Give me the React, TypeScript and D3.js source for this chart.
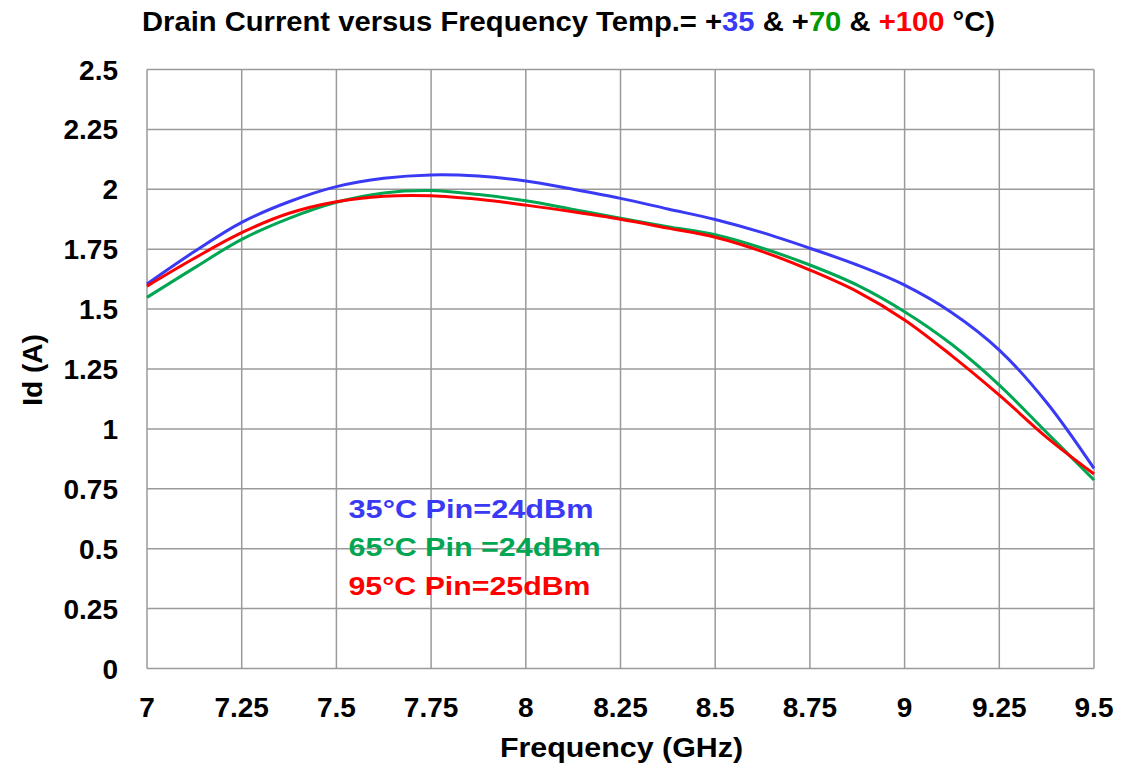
import React from "react";
import * as d3 from "d3";

const freqs = [7, 7.125, 7.25, 7.375, 7.5, 7.625, 7.75, 7.875, 8, 8.125, 8.25, 8.375, 8.5, 8.625, 8.75, 8.875, 9, 9.125, 9.25, 9.375, 9.5];
const id35 = [1.605, 1.74, 1.862, 1.948, 2.011, 2.046, 2.06, 2.055, 2.035, 2.0, 1.962, 1.918, 1.874, 1.819, 1.754, 1.684, 1.6, 1.485, 1.329, 1.11, 0.835];
const id65 = [1.549, 1.672, 1.791, 1.879, 1.946, 1.985, 1.995, 1.978, 1.952, 1.916, 1.879, 1.844, 1.81, 1.754, 1.684, 1.6, 1.489, 1.352, 1.183, 0.985, 0.787];
const id95 = [1.596, 1.712, 1.819, 1.9, 1.948, 1.971, 1.973, 1.958, 1.934, 1.906, 1.875, 1.838, 1.8, 1.74, 1.663, 1.573, 1.455, 1.305, 1.141, 0.965, 0.812];

const xTicks = [7, 7.25, 7.5, 7.75, 8, 8.25, 8.5, 8.75, 9, 9.25, 9.5];
const yTicks = [0, 0.25, 0.5, 0.75, 1, 1.25, 1.5, 1.75, 2, 2.25, 2.5];

const legendLabels = ["35°C Pin=24dBm", "65°C Pin =24dBm", "95°C Pin=25dBm"];
const colors = ["#3a3af5", "#00a651", "#ff0000"];

const font = "'Liberation Sans', Arial, sans-serif";

const App: React.FC = () => {
  const width = 1125;
  const height = 770;
  const margin = { top: 69.5, right: 31, bottom: 101.5, left: 147 };
  const innerW = width - margin.left - margin.right;
  const innerH = height - margin.top - margin.bottom;

  const x = d3.scaleLinear().domain([7, 9.5]).range([0, innerW]);
  const y = d3.scaleLinear().domain([0, 2.5]).range([innerH, 0]);

  const line = d3
    .line<number>()
    .x((_, i) => x(freqs[i]))
    .y((d) => y(d))
    .curve(d3.curveCatmullRom.alpha(0.5));

  const series = [id35, id65, id95];
  const legendW = [245, 252, 242];

  return (
    <svg width={width} height={height} style={{ position: "absolute", left: 0, top: 0, background: "#fff" }}>
      <text x={142} y={31} fontFamily={font} fontWeight="bold" fontSize={27} textLength={853} lengthAdjust="spacingAndGlyphs">
        <tspan fill="#000">Drain Current versus Frequency Temp.= +</tspan>
        <tspan fill="#3a3af5">35</tspan>
        <tspan fill="#000"> &amp; +</tspan>
        <tspan fill="#009900">70</tspan>
        <tspan fill="#000"> &amp; </tspan>
        <tspan fill="#ff0000">+100</tspan>
        <tspan fill="#000"> °C)</tspan>
      </text>
      <g transform={`translate(${margin.left},${margin.top})`}>
        {xTicks.map((t) => (
          <line key={`gx${t}`} x1={x(t)} x2={x(t)} y1={0} y2={innerH} stroke="#9a9a9a" strokeWidth={1.5} />
        ))}
        {yTicks.map((t) => (
          <line key={`gy${t}`} x1={0} x2={innerW} y1={y(t)} y2={y(t)} stroke="#9a9a9a" strokeWidth={1.5} />
        ))}
        {series.map((s, i) => (
          <path key={i} d={line(s) || ""} fill="none" stroke={colors[i]} strokeWidth={3} />
        ))}
        {yTicks.map((t) => (
          <text key={`ly${t}`} x={-29} y={y(t) + 10} textAnchor="end" fontFamily={font} fontWeight="bold" fontSize={28}>
            {String(t)}
          </text>
        ))}
        {xTicks.map((t) => (
          <text key={`lx${t}`} x={x(t)} y={innerH + 48} textAnchor="middle" fontFamily={font} fontWeight="bold" fontSize={28}>
            {String(t)}
          </text>
        ))}
        {legendLabels.map((l, i) => (
          <text key={l} x={x(7.532)} y={y(0.63) + i * 38.5} fontFamily={font} fontWeight="bold" fontSize={26} fill={colors[i]} textLength={legendW[i]} lengthAdjust="spacingAndGlyphs">
            {l}
          </text>
        ))}
      </g>
      <text x={500} y={757} fontFamily={font} fontWeight="bold" fontSize={28} textLength={243} lengthAdjust="spacingAndGlyphs">
        Frequency (GHz)
      </text>
      <text transform="translate(42,370) rotate(-90)" textAnchor="middle" fontFamily={font} fontWeight="bold" fontSize={28}>
        Id (A)
      </text>
    </svg>
  );
};

export default App;
